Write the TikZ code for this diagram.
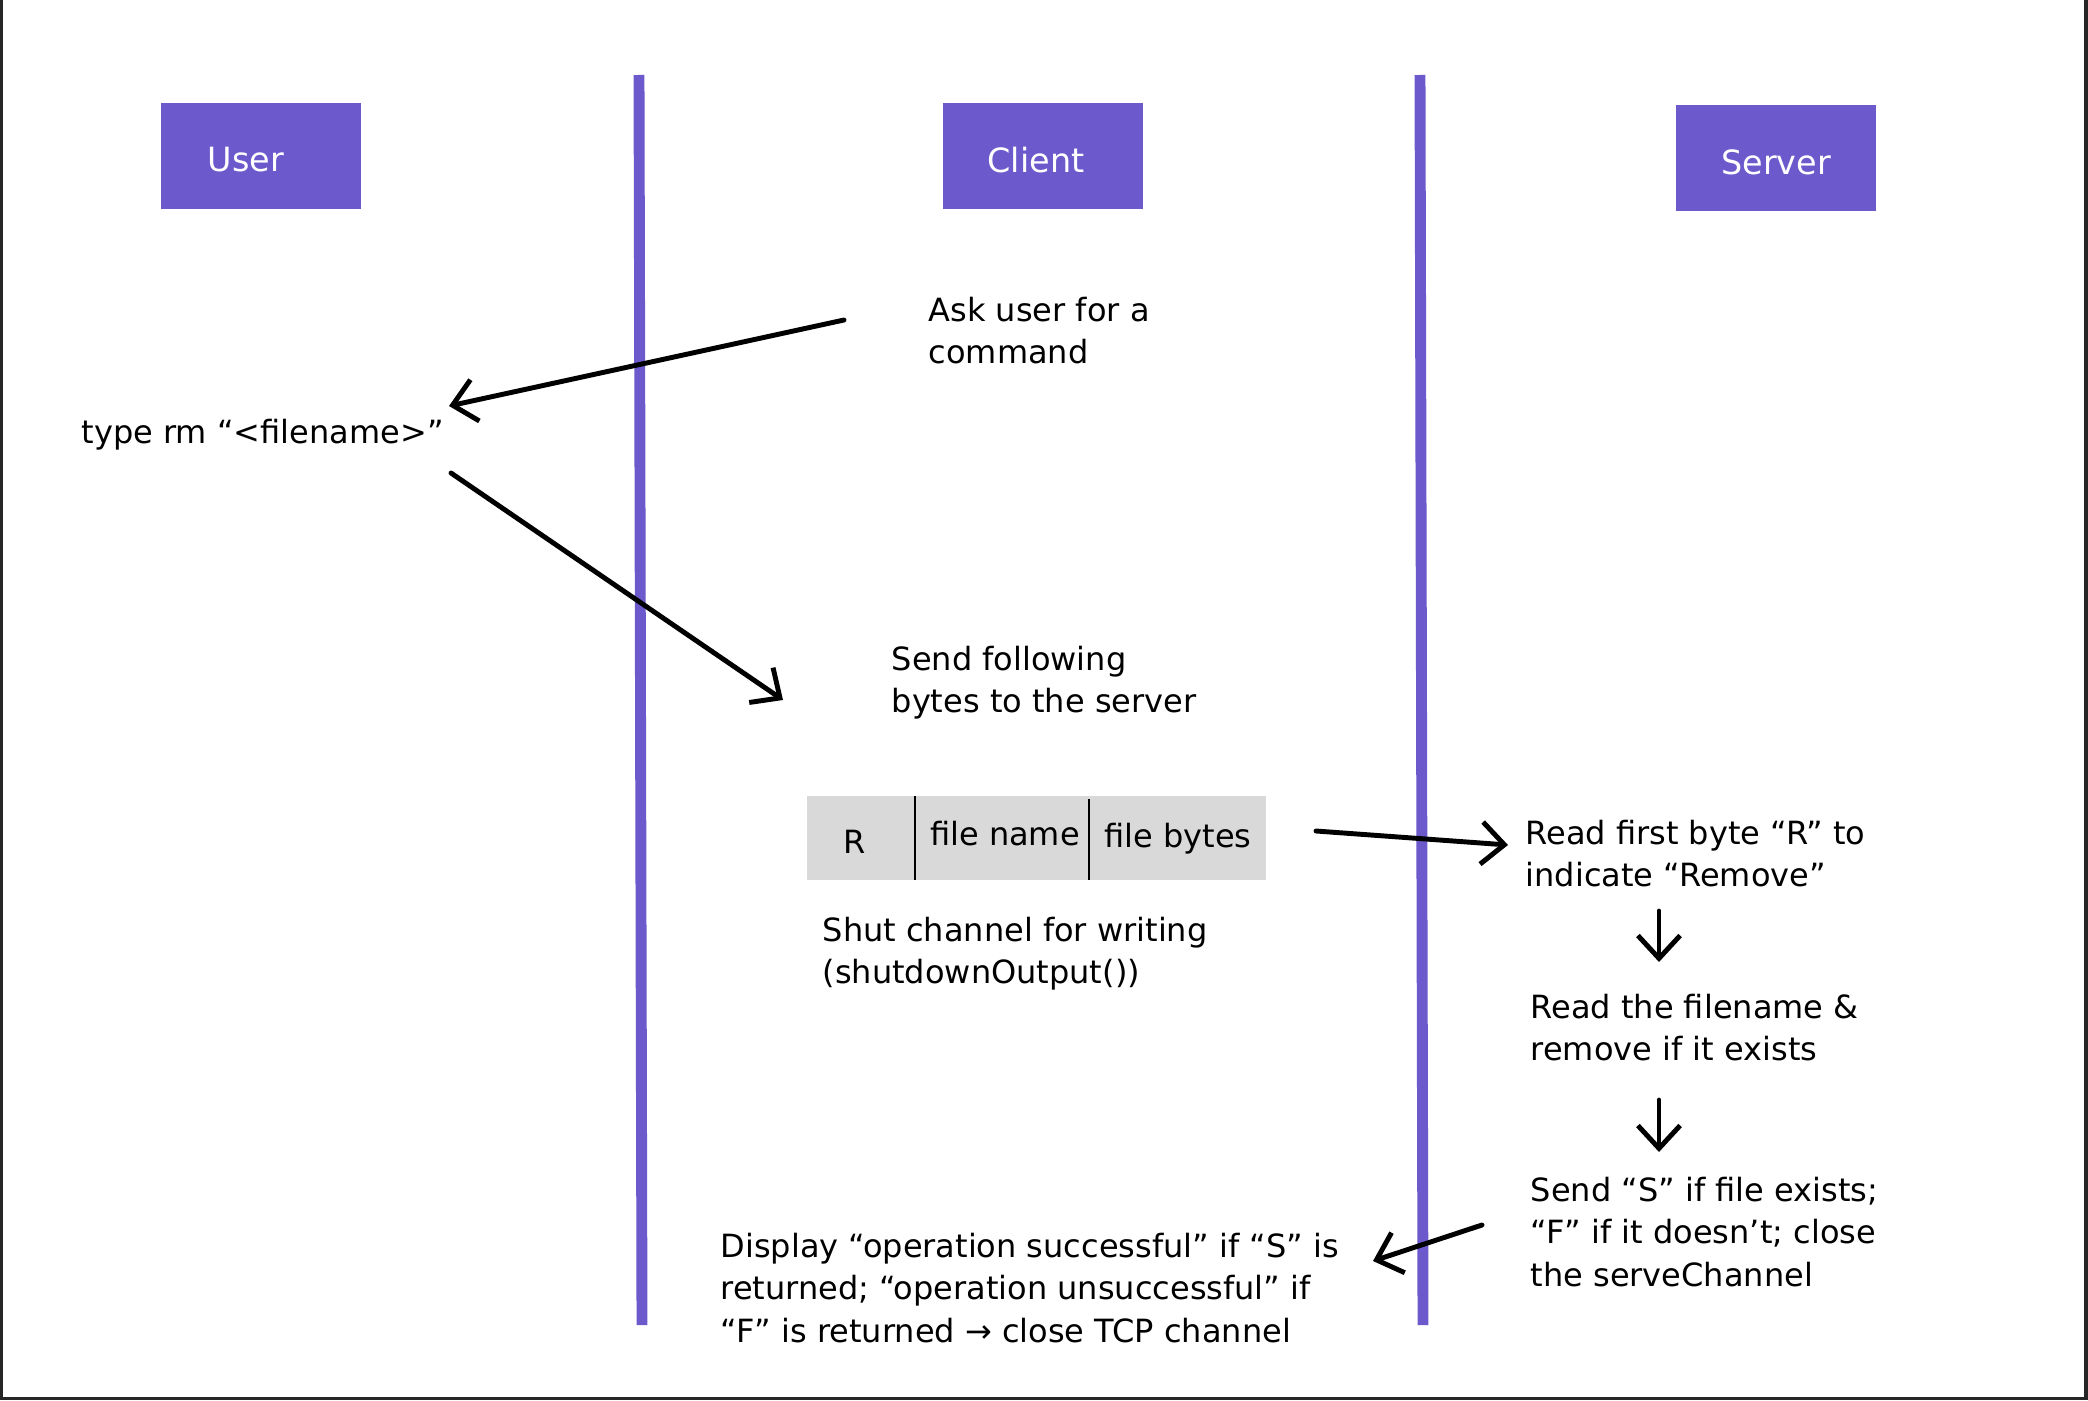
\documentclass[tikz,border=0pt]{standalone}
\usepackage{fontspec}
\setmainfont{DejaVu Sans}
\usetikzlibrary{arrows.meta}
\definecolor{lane}{RGB}{108,89,204}
\definecolor{cellgray}{RGB}{217,217,217}
\definecolor{framegray}{RGB}{38,38,38}
\begin{document}
\begin{tikzpicture}[x=0.01cm,y=-0.01cm,
  txt/.style={anchor=north west,inner sep=0pt,align=left,font=\fontsize{9.1}{12.2}\selectfont},
  head/.style={fill=lane,draw=none,minimum width=2cm,minimum height=1.06cm,inner sep=0pt},
  headtxt/.style={text=white,inner sep=0pt,font=\fontsize{9.5}{11}\selectfont},
  lanebar/.style={draw=lane,line width=3.1pt},
  divider/.style={draw=black,line width=0.8pt},
  celltxt/.style={inner sep=0pt,font=\fontsize{9.1}{11}\selectfont},
  flow/.style={draw=black,line width=1.4pt,line cap=round,
    -{Straight Barb[length=6.5pt,width=12pt]}}]

% page and frame
\useasboundingbox (0,0) rectangle (2088,1400);
\fill[white] (0,0) rectangle (2088,1400);
\fill[framegray] (0,0) rectangle (3,1400);
\fill[framegray] (2084,0) rectangle (2088,1400);
\fill[framegray] (0,1397) rectangle (2088,1400);

% swim-lane separators
\draw[lanebar] (639,75) -- (642,1325);
\draw[lanebar] (1420,75) -- (1423,1325);

% lane headers
\node[head] (userbox)   at (261,156) {};
\node[head] (clientbox) at (1043,156) {};
\node[head] (serverbox) at (1776,158) {};
\node[headtxt] (userlbl)   at (246,160) {User};
\node[headtxt] (clientlbl) at (1036,160) {Client};
\node[headtxt] (serverlbl) at (1776,162) {Server};

% step texts
\node[txt] (ask)     at (928,296)  {Ask user for a\\command};
\node[txt] (typerm)  at (81,418)   {type rm “<filename>”};
\node[txt] (sendbytes) at (891,645) {Send following\\bytes to the server};
\node[txt] (shut)    at (822,916)  {Shut channel for writing\\(shutdownOutput())};
\node[txt] (readR)   at (1525,819) {Read first byte “R” to\\indicate “Remove”};
\node[txt] (readfn)  at (1530,993) {Read the filename \&\\remove if it exists};
\node[txt] (sendSF)  at (1530,1176) {Send “S” if file exists;\\“F” if it doesn’t; close\\the serveChannel};
\node[txt] (display) at (720,1232) {Display “operation successful” if “S” is\\returned; “operation unsuccessful” if\\“F” is returned → close TCP channel};

% message layout
\node[fill=cellgray,draw=none,inner sep=0pt,minimum width=4.59cm,minimum height=0.84cm] (packet) at (1036.5,838) {};
\draw[divider] (915,796) -- (915,880);
\draw[divider] (1089,799) -- (1089,880);
\node[celltxt] (cellR)     at (855,842)  {R};
\node[celltxt] (cellname)  at (1005,834) {file name};
\node[celltxt] (cellbytes) at (1178,839) {file bytes};

% connector ends
\coordinate (a1s) at (844,320);
\coordinate (a1e) at (449,406);
\coordinate (a2s) at (451,473);
\coordinate (a2e) at (783,700);
\coordinate (a3s) at (1316,831);
\coordinate (a3e) at (1508,845);
\coordinate (a4s) at (1659,911);
\coordinate (a4e) at (1659,962);
\coordinate (a5s) at (1659,1100);
\coordinate (a5e) at (1659,1152);
\coordinate (a6s) at (1482,1225);
\coordinate (a6e) at (1373,1261);

\draw[flow] (a1s) -- (a1e);
\draw[flow] (a2s) -- (a2e);
\draw[flow] (a3s) -- (a3e);
\draw[flow] (a4s) -- (a4e);
\draw[flow] (a5s) -- (a5e);
\draw[flow] (a6s) -- (a6e);
\end{tikzpicture}
\end{document}
